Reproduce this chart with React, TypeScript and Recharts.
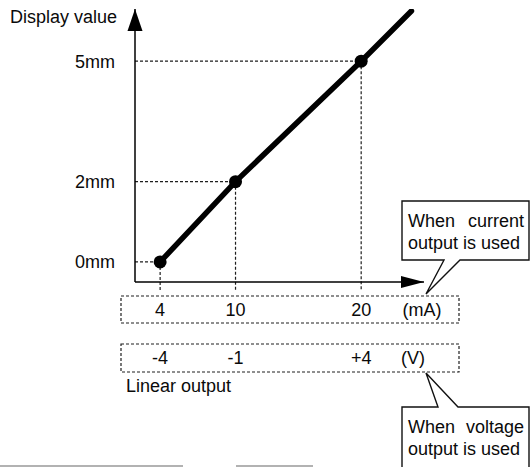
import React from "react";
import {
  ComposedChart,
  Line,
  XAxis,
  YAxis,
  ReferenceLine,
  ReferenceDot,
} from "recharts";

// linear output (mA) -> display value (mm)
const currentMA = [4, 10, 20];
const voltageV = ["-4", "-1", "+4"];
const displayMM = [0, 2, 5];
// the line keeps going past the last marked point
const lineEnd = { current: 24, display: 6.25 };

const xDomain = [2, 25];
const yDomain = [-0.5, 6.3];
const guideBottom = -0.7;

const FONT = "'Liberation Sans', Arial, sans-serif";
const INK = "#0a0a0a";
const DASH = "#1e1e1e";

const lineData = [
  ...currentMA.map((c, i) => ({ current: c, display: displayMM[i], marked: true })),
  { ...lineEnd, marked: false },
];

const AxisTick = (props: any) => {
  const { x, y, payload } = props;
  const i = currentMA.indexOf(payload.value);
  return (
    <g>
      <text x={x} y={y + 34} textAnchor="middle" fontSize={18} fontFamily={FONT} fill={INK}>
        {payload.value}
      </text>
      <text x={x} y={y + 82} textAnchor="middle" fontSize={18} fontFamily={FONT} fill={INK}>
        {voltageV[i]}
      </text>
    </g>
  );
};

const PointDot = (props: any) => {
  const { cx, cy, payload, index } = props;
  if (!payload.marked) return <g key={`d${index}`} />;
  return <circle key={`d${index}`} cx={cx} cy={cy} r={6.5} fill="#000" />;
};

const XArrow = (p: any) => (
  <polygon points={`${p.cx},${p.cy} ${p.cx - 23},${p.cy - 6} ${p.cx - 23},${p.cy + 6}`} fill="#000" />
);

const YArrow = (p: any) => (
  <polygon points={`${p.cx},${p.cy} ${p.cx - 7.5},${p.cy + 22} ${p.cx + 7.5},${p.cy + 22}`} fill="#000" />
);

const Overlay = () => (
  <svg
    width={532}
    height={467}
    style={{ position: "absolute", left: 0, top: 0, pointerEvents: "none" }}
    fontFamily={FONT}
    fontSize={18}
    fill={INK}
  >
    <text x={10} y={23}>Display value</text>
    <rect x={121} y={296} width={338} height={27} fill="none" stroke={DASH} strokeWidth={1.2} strokeDasharray="3 2" />
    <rect x={121} y={344} width={338} height={28} fill="none" stroke={DASH} strokeWidth={1.2} strokeDasharray="3 2" />
    <text x={422} y={316} textAnchor="middle">(mA)</text>
    <text x={413} y={364} textAnchor="middle">(V)</text>
    <text x={126} y={392}>Linear output</text>

    <path
      d="M402,201 H529 V260 H460 L426,294 L444,260 H402 Z"
      fill="#fff"
      stroke="#111"
      strokeWidth={1.4}
    />
    <text x={408} y={227}>When</text>
    <text x={524} y={227} textAnchor="end">current</text>
    <text x={408} y={249}>output is used</text>

    <path
      d="M402,407 H438 L426,373 L458,407 H529 V470 H402 Z"
      fill="#fff"
      stroke="#111"
      strokeWidth={1.4}
    />
    <text x={408} y={433}>When</text>
    <text x={524} y={433} textAnchor="end">voltage</text>
    <text x={408} y={455}>output is used</text>

    <line x1={0} y1={466} x2={183} y2={466} stroke="#999" strokeWidth={1.5} />
    <line x1={236} y1={466} x2={313} y2={466} stroke="#999" strokeWidth={1.5} />
  </svg>
);

export default function App() {
  return (
    <div style={{ position: "absolute", left: 0, top: 0, width: 532, height: 467, background: "#fff" }}>
      <ComposedChart
        width={532}
        height={467}
        data={lineData}
        margin={{ top: 9, right: 108, bottom: 85, left: 75 }}
      >
        <XAxis
          type="number"
          dataKey="current"
          domain={xDomain}
          allowDataOverflow
          ticks={currentMA}
          height={100}
          axisLine={{ stroke: "#000", strokeWidth: 1.5 }}
          tickLine={false}
          tickSize={0}
          tickMargin={0}
          tick={<AxisTick />}
        />
        <YAxis
          type="number"
          dataKey="display"
          domain={yDomain}
          allowDataOverflow
          ticks={displayMM}
          width={60}
          tickFormatter={(v: number) => `${v}mm`}
          axisLine={{ stroke: "#000", strokeWidth: 1.5 }}
          tickLine={false}
          tickSize={0}
          tickMargin={20}
          tick={{ fill: INK, fontSize: 18, fontFamily: FONT }}
        />
        {currentMA.map((c, i) => (
          <ReferenceLine
            key={`h${c}`}
            segment={[
              { x: xDomain[0], y: displayMM[i] },
              { x: c, y: displayMM[i] },
            ]}
            stroke={DASH}
            strokeWidth={1.2}
            strokeDasharray="3 2"
            ifOverflow="visible"
          />
        ))}
        {currentMA.map((c, i) => (
          <ReferenceLine
            key={`v${c}`}
            segment={[
              { x: c, y: displayMM[i] },
              { x: c, y: guideBottom },
            ]}
            stroke={DASH}
            strokeWidth={1.2}
            strokeDasharray="3 2"
            ifOverflow="visible"
          />
        ))}
        <Line
          type="linear"
          dataKey="display"
          stroke="#000"
          strokeWidth={5.5}
          strokeLinecap="round"
          dot={(p: any) => <PointDot {...p} />}
          activeDot={false}
          isAnimationActive={false}
        />
        <ReferenceDot x={xDomain[1]} y={yDomain[0]} r={0} shape={XArrow} ifOverflow="visible" />
        <ReferenceDot x={xDomain[0]} y={yDomain[1]} r={0} shape={YArrow} ifOverflow="visible" />
      </ComposedChart>
      <Overlay />
    </div>
  );
}
